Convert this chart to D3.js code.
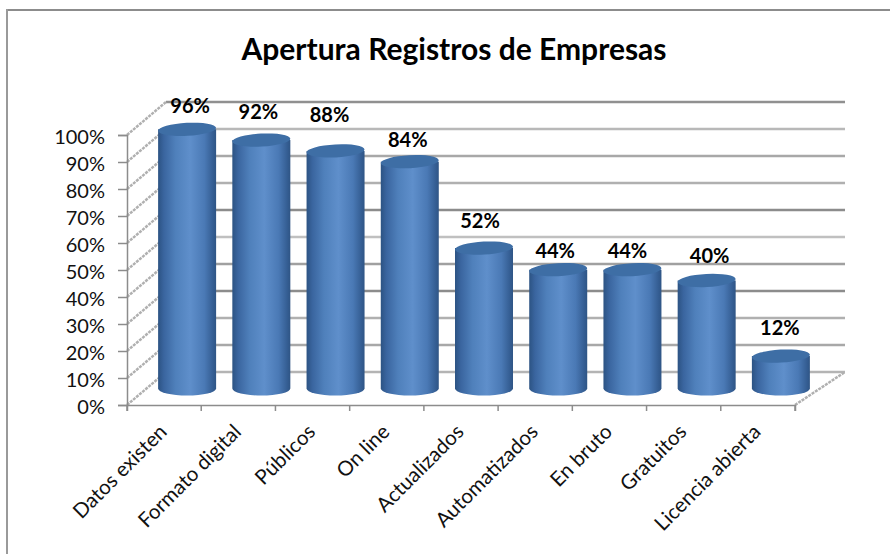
<!DOCTYPE html>
<html><head><meta charset="utf-8">
<script src="https://cdn.jsdelivr.net/npm/d3@7"></script>
<style>html,body{margin:0;padding:0;background:#fff}svg{display:block}text{font-family:Lato,"Open Sans",sans-serif}</style>
</head><body><div id="c"></div>
<script>
const categories=["Datos existen","Formato digital","Públicos","On line","Actualizados","Automatizados","En bruto","Gratuitos","Licencia abierta"];
const values=[96,92,88,84,52,44,44,40,12];
const labelNudge=[5,0,-8,6,1,9,9,3,0];
const labelShift=[3,-3,-6,-2,-4,-3,-5,3,-1];
const yTicks=[0,10,20,30,40,50,60,70,80,90,100];
const gridShade=["#b4b4b4","#a8a8a8","#b0b0b0","#8c8c8c","#a0a0a0","#c0c0c0","#8c8c8c","#b0b0b0","#a8a8a8","#b8b8b8","#909090"];

const W=890,H=554;
const svg=d3.select("#c").append("svg").attr("width",W).attr("height",H);
const defs=svg.append("defs");
const g=defs.append("linearGradient").attr("id","cyl");
[[0,"#2c5383"],[0.1,"#3a659f"],[0.3,"#4f80bb"],[0.55,"#5f8fcb"],[0.8,"#4a79b5"],[0.95,"#345d92"],[1,"#2f5585"]]
 .forEach(d=>g.append("stop").attr("offset",d[0]).attr("stop-color",d[1]));

// chart frame: only the top and left edges are in the picture
svg.append("line").attr("x1",6).attr("x2",W).attr("y1",10).attr("y2",10).attr("stroke","#8c8c8c").attr("stroke-width",2);
svg.append("line").attr("x1",7).attr("x2",7).attr("y1",9).attr("y2",H).attr("stroke","#9a9a9a").attr("stroke-width",2);

svg.append("text").attr("x",454).attr("y",60).attr("text-anchor","middle").attr("font-size",30).attr("font-weight",700).attr("fill","#000").text("Apertura Registros de Empresas");

const x=d3.scaleBand().domain(categories).range([127,795]);
const y=d3.scaleLinear().domain([0,100]).range([405,135]);
const dx=39,dy=-33;

svg.append("g").selectAll("line").data(yTicks).join("line")
 .attr("x1",127+dx).attr("x2",845).attr("y1",d=>y(d)+dy).attr("y2",d=>y(d)+dy)
 .attr("stroke",(d,i)=>gridShade[i]).attr("stroke-width",2.5);
svg.append("g").selectAll("line").data(yTicks).join("line")
 .attr("x1",127).attr("x2",127+dx).attr("y1",d=>y(d)).attr("y2",d=>y(d)+dy)
 .attr("stroke","#b0b0b0").attr("stroke-width",2.5).attr("stroke-dasharray","3 1");
svg.append("line").attr("x1",795).attr("x2",845).attr("y1",405).attr("y2",372).attr("stroke","#b0b0b0").attr("stroke-width",2.5).attr("stroke-dasharray","3 1");

const axisY=svg.append("g").attr("transform","translate(127,0)")
 .call(d3.axisLeft(y).tickValues(yTicks).tickSize(9).tickPadding(13).tickFormat(d=>d+"%"));
const axisX=svg.append("g").attr("transform","translate(0,405)")
 .call(d3.axisBottom(x).tickSize(6).tickFormat(""));
axisX.selectAll(".tick").remove();
axisX.selectAll("line.t").data(d3.range(categories.length+1)).join("line").attr("class","t")
 .attr("x1",i=>127+i*x.step()).attr("x2",i=>127+i*x.step()).attr("y1",0).attr("y2",6).attr("stroke","#8c8c8c").attr("stroke-width",1.5);
[axisY,axisX].forEach(a=>{a.select(".domain").attr("stroke","#8c8c8c").attr("stroke-width",1.5);a.selectAll(".tick line").attr("stroke","#8c8c8c").attr("stroke-width",1.5)});
axisY.selectAll("text").attr("font-size",20).attr("fill","#111").attr("y",2);

svg.append("g").selectAll("text").data(categories).join("text")
 .attr("transform",d=>`translate(${x(d)+x.bandwidth()/2-1},${428}) rotate(-45)`)
 .attr("text-anchor","end").attr("font-size",20.5).attr("dy","0.35em").attr("fill","#111").text(d=>d);

const bw=58,rx=bw/2,ry=6.5,rBase=7;
const cx=d=>x(d)+x.bandwidth()/2+23;
const baseY=v=>y(v)+dy/2;
const bars=svg.append("g").selectAll("g").data(categories.map((c,i)=>({c,v:values[i]}))).join("g");
bars.append("path").attr("d",d=>{
  const t=baseY(d.v),b=baseY(0),c=cx(d.c);
  return `M${c-rx},${t}L${c-rx},${b}A${rx},${rBase} 0 0 0 ${c+rx},${b}L${c+rx},${t}Z`;
}).attr("fill","url(#cyl)");
bars.append("ellipse").attr("cx",d=>cx(d.c)).attr("cy",d=>baseY(d.v)).attr("rx",rx).attr("ry",ry)
 .attr("transform",d=>`rotate(-3 ${cx(d.c)} ${baseY(d.v)})`).attr("fill","#3e6ea5");

svg.append("g").selectAll("text").data(categories).join("text")
 .attr("x",(d,i)=>cx(d)+labelShift[i]).attr("y",(d,i)=>baseY(values[i])-26+labelNudge[i])
 .attr("text-anchor","middle").attr("dominant-baseline","middle").attr("font-size",20).attr("font-weight",700).attr("fill","#000")
 .text((d,i)=>values[i]+"%");
</script></body></html>
